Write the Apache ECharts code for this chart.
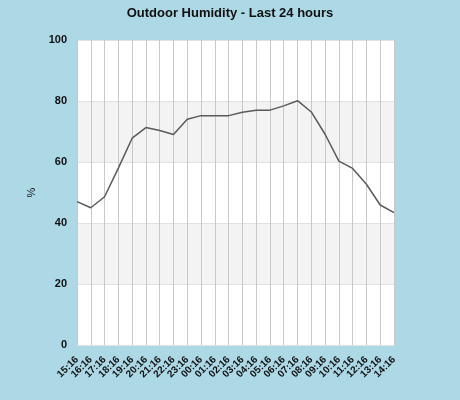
<!DOCTYPE html>
<html><head><meta charset="utf-8">
<script src="https://cdn.jsdelivr.net/npm/echarts@6/dist/echarts.min.js"></script>
<style>html,body{margin:0;padding:0;background:#add8e6;}#c{width:460px;height:400px;}</style>
</head><body><div id="c"></div>
<script>
const categories = ["15:16","16:16","17:16","18:16","19:16","20:16","21:16","22:16","23:16","00:16","01:16","02:16","03:16","04:16","05:16","06:16","07:16","08:16","09:16","10:16","11:16","12:16","13:16","14:16"];
const humidity = [47.0,45.0,48.6,58.0,67.8,71.3,70.3,69.0,74.0,75.2,75.2,75.2,76.3,77.0,77.0,78.4,80.1,76.4,69.1,60.3,57.9,52.7,45.9,43.4];
const yTicks = {min:0, max:100, interval:20};
const chart = echarts.init(document.getElementById('c'));
chart.setOption({
  backgroundColor:'#add8e6',
  animation:false,
  title:{text:'Outdoor Humidity - Last 24 hours',left:'center',top:2,
    textStyle:{fontFamily:'Liberation Sans',fontSize:13,fontWeight:'bold',color:'#111'}},
  grid:{left:77,right:66,top:40,bottom:55,backgroundColor:'#fff',show:true,borderWidth:0},
  xAxis:{type:'category',data:categories,boundaryGap:false,
    axisLine:{show:false},axisTick:{show:false},
    splitLine:{show:true,lineStyle:{color:'#c8c8c8',width:1}},
    axisLabel:{rotate:45,interval:0,margin:13,fontFamily:'Liberation Sans',fontSize:10,fontWeight:'bold',color:'#111'}},
  yAxis:{type:'value',min:yTicks.min,max:yTicks.max,interval:yTicks.interval,
    name:'%',nameLocation:'middle',nameGap:40,nameRotate:90,
    nameTextStyle:{fontFamily:'Liberation Sans',fontSize:11,color:'#111'},
    axisLine:{show:false},axisTick:{show:false},
    axisLabel:{margin:10,fontFamily:'Liberation Sans',fontSize:11,fontWeight:'bold',color:'#111'},
    splitLine:{show:true,lineStyle:{color:'#e2e2e2',width:1}},
    splitArea:{show:true,areaStyle:{color:['#ffffff','#f3f3f3']}}},
  series:[{type:'line',data:humidity,symbol:'none',
    lineStyle:{color:'#5a5a5a',width:1.5}}]
});
</script></body></html>
